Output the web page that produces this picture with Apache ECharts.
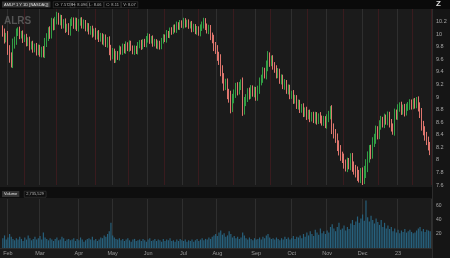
<!DOCTYPE html>
<html><head><meta charset="utf-8">
<script src="https://cdn.jsdelivr.net/npm/echarts@6/dist/echarts.min.js"></script>
<style>html,body{margin:0;padding:0;background:#1b1b1b;}#c{width:450px;height:258px;}</style>
</head><body><div id="c"></div>
<script>
// ---- data ----
const startDate = '2022-01-27';
const holidays = ['2022-02-21','2022-04-15','2022-05-30','2022-06-20','2022-07-04','2022-09-05','2022-11-24','2022-12-26','2023-01-02','2023-01-16'];
const firstOpen = 10.08;
const closes = [
 10.02, 9.92, 9.97, 9.75, 9.62, 9.56, 9.83, 9.90, 10.02, 10.06, 9.98,
 10.00, 9.92, 9.95, 9.86, 9.90, 9.80, 9.84, 9.76, 9.80, 9.72,
 9.78, 9.69, 9.74, 9.70, 9.86, 9.95, 10.05, 10.00, 10.19, 10.12,
 10.22, 10.29, 10.20, 10.25, 10.14, 10.19, 10.08, 10.12, 10.04, 10.18,
 10.22, 10.13, 10.21, 10.10, 10.18, 10.22, 10.14, 10.18, 10.09, 10.13,
 10.04, 10.08, 10.00, 10.05, 9.96, 10.01, 9.93, 9.97, 9.88, 9.94,
 9.85, 9.89, 9.74, 9.67, 9.71, 9.60, 9.68, 9.64, 9.76, 9.72,
 9.80, 9.74, 9.83, 9.77, 9.85, 9.78, 9.72, 9.77, 9.73, 9.82,
 9.86, 9.80, 9.88, 9.84, 9.92, 9.96, 9.89, 9.93, 9.85, 9.88,
 9.81, 9.85, 9.80, 9.90, 9.95, 9.92, 10.01, 9.98, 10.06, 10.04,
 10.11, 10.07, 10.15, 10.11, 10.18, 10.14, 10.21, 10.15, 10.19, 10.13,
 10.16, 10.08, 10.12, 10.04, 10.08, 10.02, 10.10, 10.15, 10.20, 10.12,
 10.06, 10.09, 9.96, 9.92, 9.80, 9.76, 9.64, 9.59, 9.42, 9.30,
 9.18, 9.22, 9.04, 9.00, 8.84, 8.97, 9.05, 9.16, 9.10, 9.18,
 9.21, 8.80, 8.92, 8.98, 9.08, 9.03, 9.13, 9.06, 9.10, 9.00,
 9.12, 9.24, 9.30, 9.40, 9.36, 9.50, 9.64, 9.55, 9.60, 9.50,
 9.44, 9.36, 9.40, 9.26, 9.30, 9.18, 9.22, 9.10, 9.14, 9.02,
 9.05, 8.95, 8.98, 8.86, 8.90, 8.80, 8.84, 8.74, 8.78, 8.70,
 8.74, 8.66, 8.71, 8.64, 8.70, 8.62, 8.69, 8.65, 8.60, 8.64,
 8.56, 8.66, 8.72, 8.78, 8.50, 8.42, 8.34, 8.22, 8.16, 8.06,
 8.02, 7.94, 7.88, 7.96, 7.92, 8.02, 7.90, 7.84, 7.80, 7.76,
 7.72, 7.78, 7.70, 7.82, 7.90, 8.04, 8.15, 8.10, 8.28, 8.34,
 8.46, 8.40, 8.56, 8.62, 8.58, 8.66, 8.62, 8.70, 8.58, 8.52,
 8.46, 8.74, 8.70, 8.82, 8.86, 8.78, 8.82, 8.76, 8.84, 8.86,
 8.90, 8.86, 8.92, 8.88, 8.94, 8.84, 8.74, 8.55, 8.46, 8.38, 8.30, 8.22, 8.14
];
// intraday high-low range of each day
const dayRange = [
 0.12,0.14,0.10,0.16,0.15,0.18,0.20,0.12,0.14,0.10,0.12,
 0.10,0.12,0.09,0.11,0.10,0.12,0.09,0.11,0.10,0.12,
 0.11,0.10,0.12,0.14,0.16,0.13,0.12,0.15,0.14,0.12,
 0.11,0.13,0.10,0.12,0.11,0.10,0.12,0.09,0.11,0.13,
 0.10,0.09,0.11,0.10,0.12,0.09,0.10,0.11,0.09,0.10,
 0.09,0.10,0.11,0.08,0.10,0.09,0.11,0.10,0.09,0.12,
 0.11,0.13,0.15,0.18,0.14,0.12,0.11,0.10,0.12,0.09,
 0.10,0.09,0.11,0.08,0.10,0.09,0.08,0.10,0.09,0.11,
 0.09,0.10,0.08,0.09,0.10,0.11,0.09,0.08,0.10,0.09,
 0.08,0.10,0.09,0.08,0.10,0.09,0.11,0.08,0.09,0.10,
 0.08,0.09,0.10,0.08,0.09,0.08,0.10,0.09,0.08,0.09,
 0.08,0.10,0.09,0.08,0.10,0.09,0.11,0.10,0.12,0.11,
 0.10,0.12,0.11,0.13,0.14,0.15,0.13,0.16,0.18,0.17,
 0.16,0.14,0.15,0.18,0.20,0.16,0.14,0.13,0.15,0.12,
 0.14,0.20,0.16,0.13,0.12,0.14,0.12,0.11,0.13,0.12,
 0.12,0.14,0.11,0.15,0.13,0.16,0.18,0.14,0.12,0.13,
 0.11,0.13,0.12,0.10,0.12,0.11,0.13,0.10,0.12,0.11,
 0.10,0.12,0.11,0.10,0.12,0.11,0.10,0.12,0.11,0.13,
 0.11,0.12,0.10,0.11,0.13,0.12,0.10,0.14,0.11,0.12,
 0.11,0.13,0.12,0.15,0.18,0.16,0.14,0.16,0.18,0.15,
 0.14,0.16,0.13,0.15,0.14,0.17,0.18,0.15,0.16,0.19,
 0.16,0.18,0.20,0.17,0.22,0.19,0.17,0.18,0.16,0.15,
 0.17,0.15,0.14,0.16,0.13,0.15,0.12,0.14,0.13,0.14,
 0.12,0.15,0.12,0.13,0.11,0.13,0.12,0.14,0.11,0.12,
 0.13,0.12,0.11,0.13,0.12,0.14,0.15,0.17,0.14,0.15,0.13,0.14,0.13
];
const volumes = [
 14, 18, 12, 15, 20, 16, 13, 11, 14, 12, 16,
 13, 10, 15, 12, 18, 14, 11, 13, 16, 12,
 14, 17, 12, 22, 15, 13, 11, 14, 12, 10,
 13, 15, 11, 12, 16, 14, 10, 12, 13, 11,
 12, 14, 10, 13, 11, 15, 12, 9, 11, 13,
 14, 12, 16, 11, 13, 10, 12, 15, 14, 18,
 16, 20, 24, 36, 18, 15, 13, 12, 14, 11,
 13, 10, 12, 14, 11, 9, 12, 13, 10, 11,
 12, 10, 13, 11, 9, 12, 14, 10, 11, 13,
 10, 12, 11, 9, 13, 10, 12, 11, 14, 10,
 11, 9, 12, 10, 13, 11, 10, 12, 9, 11,
 10, 12, 9, 11, 13, 10, 12, 14, 11, 13,
 12, 15, 13, 16, 18, 20, 17, 22, 25, 19,
 21, 16, 18, 24, 20, 15, 17, 14, 16, 13,
 15, 22, 18, 14, 12, 15, 13, 11, 14, 12,
 13, 15, 12, 16, 14, 18, 20, 15, 13, 14,
 12, 15, 13, 11, 14, 12, 16, 13, 15, 12,
 14, 17, 13, 16, 15, 18, 14, 20, 16, 22,
 18, 24, 20, 17, 26, 22, 19, 28, 21, 24,
 20, 25, 22, 30, 34, 28, 24, 30, 36, 26,
 28, 32, 25, 30, 27, 35, 40, 33, 38, 45,
 36, 42, 48, 39, 68, 44, 38, 46, 40, 35,
 42, 37, 33, 40, 30, 36, 28, 32, 27, 30,
 24, 28, 22, 26, 21, 25, 23, 27, 22, 24,
 26, 23, 21, 22, 25, 28, 30, 24, 27, 23, 26, 25, 24
];
const monthNames = {'01':'Jan','02':'Feb','03':'Mar','04':'Apr','05':'May','06':'Jun','07':'Jul','08':'Aug','09':'Sep','10':'Oct','11':'Nov','12':'Dec'};
const headerTexts = ['O: 7.5728', 'H: 8.096', 'L: 8.06', 'C: 8.11', 'V: 8.07'];
const titleText = 'AMLP 1 Y 1D [NASDAQ]';
const watermark = 'ALRS';
const volumeLabel = 'Volume';
const volumeValueText = '2,735,529';

// ---- build ----
const dates = [];
(function(){
  const p = startDate.split('-').map(Number);
  const d = new Date(Date.UTC(p[0], p[1]-1, p[2]));
  while (dates.length < closes.length) {
    const dow = d.getUTCDay();
    const s = d.toISOString().slice(0,10);
    if (dow !== 0 && dow !== 6 && holidays.indexOf(s) < 0) dates.push(s);
    d.setUTCDate(d.getUTCDate()+1);
  }
})();
const isMonthStart = i => i > 0 && dates[i].slice(0,7) !== dates[i-1].slice(0,7);
const isMid = i => i > 0 && +dates[i].slice(8) >= 15 && +dates[i-1].slice(8) < 15 && dates[i].slice(0,7) === dates[i-1].slice(0,7);
const candles = closes.map((c, i) => {
  const o = i === 0 ? firstOpen : closes[i-1];
  const half = dayRange[i] / 2;
  return [o, c, Math.min(o, c) - half, Math.max(o, c) + half];
});
const lastClose = closes[closes.length-1];

const FONT = 'Liberation Sans';
const chart = echarts.init(document.getElementById('c'));

const graphics = [
  {type:'rect', z:-10, shape:{x:0,y:0,width:450,height:9}, style:{fill:'#0a0a0a'}},
  {type:'rect', z:-10, shape:{x:0,y:187,width:432,height:11}, style:{fill:'#0e0e0e'}},
  {type:'rect', z:-10, shape:{x:432,y:9,width:18,height:249}, style:{fill:'#151515'}},
  {type:'line', z:-9, shape:{x1:432.5,y1:9,x2:432.5,y2:258}, style:{stroke:'#2c2c2c',lineWidth:1}},
  {type:'line', z:-9, shape:{x1:0,y1:248.5,x2:432,y2:248.5}, style:{stroke:'#2c2c2c',lineWidth:1}},
  {type:'text', z:100, left:2, top:1.5, style:{text:titleText, fontSize:4, fontFamily:FONT, fill:'#e0e0e0', backgroundColor:'#333', padding:[1,2]}},
  {type:'text', z:5, left:4, top:16, style:{text:watermark, fontSize:10, fontFamily:FONT, fontWeight:'bold', fill:'#555'}},
  {type:'text', z:100, left:436, top:0, style:{text:'Z', fontSize:8, fontFamily:FONT, fontWeight:'bold', fill:'#ddd'}},
  {type:'text', z:100, left:2, top:191, style:{text:volumeLabel, fontSize:4, fontFamily:FONT, fill:'#e0e0e0', backgroundColor:'#333', padding:[1,2]}},
  {type:'text', z:100, left:24, top:191, style:{text:volumeValueText, fontSize:4, fontFamily:FONT, fill:'#bbb', borderColor:'#444', borderWidth:0.5, padding:[1,2]}}
];
let hx = 53;
headerTexts.forEach(t => {
  graphics.push({type:'text', z:100, left:hx, top:1.5, style:{text:t, fontSize:4, fontFamily:FONT, fill:'#bbb', borderColor:'#444', borderWidth:0.5, padding:[1,2]}});
  hx += 17;
});

const hiddenAxis = {axisLine:{show:false}, axisTick:{show:false}, axisLabel:{show:false}};

chart.setOption({
  backgroundColor:'#1b1b1b',
  animation:false,
  textStyle:{fontFamily:FONT},
  graphic: graphics,
  grid:[
    {left:2, right:19, top:9, height:176},
    {left:2, right:19, top:199, height:49}
  ],
  xAxis:[
    Object.assign({type:'category', gridIndex:0, data:dates, splitLine:{show:true, interval:(i)=>isMonthStart(i), lineStyle:{color:'#2f2f2f', width:1}}}, hiddenAxis),
    Object.assign({type:'category', gridIndex:0, data:dates, position:'top', splitLine:{show:true, interval:(i)=>isMid(i), lineStyle:{color:'#3a1b1e', width:1}}}, hiddenAxis),
    {type:'category', gridIndex:1, data:dates, axisLine:{show:false}, axisTick:{show:false},
      splitLine:{show:true, interval:(i)=>isMonthStart(i), lineStyle:{color:'#2f2f2f', width:1}},
      axisLabel:{show:true, interval:(i)=>isMonthStart(i), color:'#9a9a9a', fontSize:5.5, margin:2,
        formatter:(v)=> v.slice(0,4)==='2023' && v.slice(5,7)==='01' ? '23' : monthNames[v.slice(5,7)]}}
  ],
  yAxis:[
    {type:'value', gridIndex:0, position:'right', min:7.6, max:10.4, interval:0.2,
      axisLine:{show:false}, axisTick:{show:false}, splitLine:{show:false},
      axisLabel:{color:'#a8a8a8', fontSize:5.5, margin:5, showMaxLabel:false, formatter:(v)=>String(Math.round(v*10)/10)}},
    {type:'value', gridIndex:1, position:'right', min:0, max:70, interval:20,
      axisLine:{show:false}, axisTick:{show:false}, splitLine:{show:false},
      axisLabel:{color:'#a8a8a8', fontSize:5, margin:5, showMaxLabel:false, formatter:(v)=> v===0 ? '' : String(v)}}
  ],
  series:[
    {type:'candlestick', xAxisIndex:0, yAxisIndex:0, data:candles, barWidth:1.2, large:false,
      itemStyle:{color:'#31a045', color0:'#e0766e', borderColor:'#31a045', borderColor0:'#e0766e', borderWidth:1},
      markLine:{symbol:'none', silent:true, data:[{yAxis:lastClose}], lineStyle:{opacity:0},
        label:{position:'end', distance:2, formatter:(p)=>p.value.toFixed(2), backgroundColor:'#25c83c', color:'#0a0a0a', fontSize:5, padding:[2,3]}}},
    {type:'bar', xAxisIndex:2, yAxisIndex:1, data:volumes, barCategoryGap:'30%', itemStyle:{color:'#27617d'}}
  ]
});
</script>
</body></html>
